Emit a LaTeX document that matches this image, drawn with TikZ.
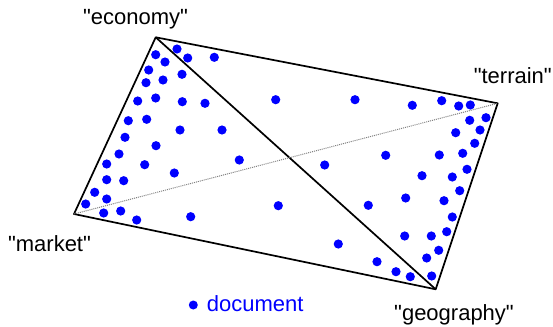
\documentclass[tikz,border=0pt]{standalone}
\usepackage{fontspec}
\setmainfont{Liberation Sans}
\usepackage{tikz}
\usetikzlibrary{positioning}
\usepackage{xcolor}
\newcommand{\qterm}[1]{\textquotedbl#1\textquotedbl}

\begin{document}
\begin{tikzpicture}[x=1pt,y=-1pt,
  term/.style={font=\fontsize{22}{26}\selectfont,inner sep=0pt,anchor=base},
  doc/.style={fill=blue},
  edge/.style={line width=1.7pt,line join=round}]
\useasboundingbox (0,0) rectangle (553,326);
\coordinate (economy) at (155.7,37.3);
\coordinate (terrain) at (497.7,103.3);
\coordinate (geography) at (435.7,289.3);
\coordinate (market) at (74,214);
\node[term] (economyLabel) at (135.5,25) {\qterm{economy}};
\node[term] (terrainLabel) at (512.8,83.3) {\qterm{terrain}};
\node[term] (marketLabel) at (49.5,251.7) {\qterm{market}};
\node[term] (geographyLabel) at (454,320) {\qterm{geography}};
\draw[edge] (economy) -- (terrain) -- (geography) -- (market) -- cycle;
\draw[edge] (economy) -- (geography);
\draw[gray,densely dotted,line width=1pt] (market) -- (terrain);
\foreach \px/\py in {177/49,155.7/54.7,187.7/58,214.3/57.3,165/62,148.7/70,182/74.3,146/82.7,163/80,
  137.7/101,155.7/98,182.3/101.7,205/103.3,128.3/120.7,146.7/119.3,180/130,222/130,125/137.3,
  156/145.7,119/154,239.3/160,106.7/164,144.7/164.7,174.3/173,106.7/179.7,123.7/180.7,94.7/192.3,
  106.7/199,85.7/204,103.7/213,120.7/211,136.7/220,190.7/216.7,
  275.7/99.7,355/99.7,412.3/105.3,441.7/100.7,458.7/106,470.3/105,486/117.7,469.7/120.3,480/130,
  455.7/132.7,474.7/143.3,385.7/155.3,439.3/155,462.7/153.3,324.7/165,422/175.7,452.3/177,
  467/169.3,459.7/190.7,278.3/205.7,368.3/205.3,405.7/198,444/200.7,452.3/217,446.7/231.7,
  431.3/236,404.7/236,338.3/244,438.7/250.3,426.7/258,377/261.7,396/271.7,410.3/276.7,431.7/276}
  \fill[doc] (\px,\py) circle (4.6pt);
% legend
\fill[doc] (193.3,305) circle (4.5pt);
\node[term,anchor=base west,text=blue] (docLabel) at (206.7,311.7) {document};
\end{tikzpicture}
\end{document}
